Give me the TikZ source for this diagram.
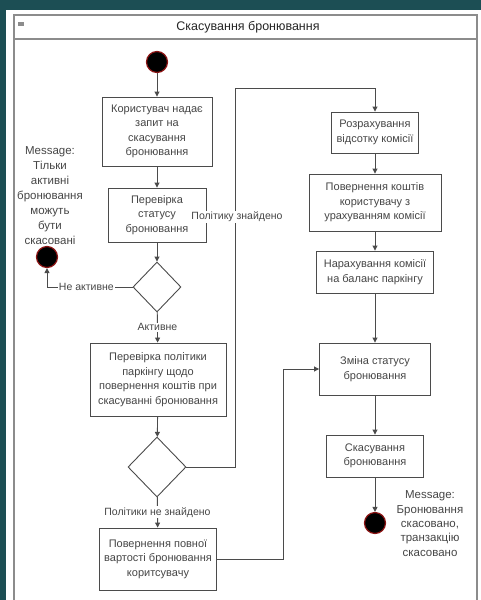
\documentclass[tikz,border=0pt]{standalone}
\usepackage{fontspec}
\setmainfont{Liberation Sans}
\usetikzlibrary{arrows.meta,shapes.geometric,calc}
\definecolor{teal1}{RGB}{28,78,84}
\definecolor{linec}{RGB}{75,75,75}
\definecolor{txtc}{RGB}{70,70,70}
\definecolor{framec}{RGB}{140,140,140}
\definecolor{startred}{RGB}{140,20,20}
\begin{document}
\begin{tikzpicture}[x=1pt,y=-1pt,
  font=\fontsize{11}{14.5}\selectfont,
  act/.style={draw=linec, line width=0.9pt, fill=white, align=center, text=txtc, inner sep=1pt},
  dec/.style={draw=linec, line width=0.9pt, diamond, fill=white, inner sep=0pt},
  blob/.style={circle, fill=black, draw=startred, line width=1.2pt, minimum size=21pt, inner sep=0pt},
  arr/.style={draw=linec, line width=0.9pt, -{Triangle[length=5pt,width=5pt]}},
  lbl/.style={fill=white, text=txtc, inner sep=1pt, font=\fontsize{10.5}{12}\selectfont},
  msg/.style={align=center, text=txtc}]
% background
\fill[teal1] (0,0) rectangle (481,600);
\fill[white] (6,10) rectangle (481,600);
\useasboundingbox (0,0) rectangle (481,600);
% frame
\draw[framec, line width=1.2pt] (14,600) -- (14,15) -- (477,15) -- (477,600);
\draw[framec, line width=1.6pt] (14,39) -- (477,39);
\fill[framec] (18,22) rectangle (24,26);
\node[text=black!85, font=\fontsize{12.5}{14}\selectfont] (title) at (248,27) {Скасування бронювання};
% nodes
\node[blob] (start) at (157,62) {};
\node[act, minimum width=110pt, minimum height=69pt] (b1) at (157,131.5) {Користувач надає\\запит на\\скасування\\бронювання};
\node[act, minimum width=98pt, minimum height=54pt] (b2) at (157,215) {Перевірка\\статусу\\бронювання};
\node[dec, minimum width=48pt, minimum height=50pt] (d1) at (157,287) {};
\node[blob] (end1) at (47,257) {};
\node[msg, font=\fontsize{11.5}{15}\selectfont] (m1) at (50,196) {Message:\\Тільки\\активні\\бронювання\\можуть\\бути\\скасовані};
\node[act, minimum width=136pt, minimum height=73pt] (b3) at (158,379.5) {Перевірка політики\\паркінгу щодо\\повернення коштів при\\скасуванні бронювання};
\node[dec, minimum width=58pt, minimum height=60pt] (d2) at (157,467) {};
\node[act, minimum width=117pt, minimum height=62pt] (b4) at (158,559) {Повернення повної\\вартості бронювання\\коритсувачу};
\node[act, minimum width=87pt, minimum height=41pt] (r1) at (375,132.5) {Розрахування\\відсотку комісії};
\node[act, minimum width=132pt, minimum height=57pt] (r2) at (375,202.5) {Повернення коштів\\користувачу з\\урахуванням комісії};
\node[act, minimum width=117pt, minimum height=42pt] (r3) at (375,272) {Нарахування комісії\\на баланс паркінгу};
\node[act, minimum width=111pt, minimum height=52pt] (r4) at (375,369) {Зміна статусу\\бронювання};
\node[act, minimum width=97pt, minimum height=42pt] (r5) at (375,456) {Скасування\\бронювання};
\node[blob] (end2) at (375,523) {};
\node[msg, font=\fontsize{11.5}{14.3}\selectfont] (m2) at (430,523.5) {Message:\\Бронювання\\скасовано,\\транзакцію\\скасовано};
\coordinate (c1) at (235,88);
\coordinate (c2) at (283,369);
% edges
\draw[arr] (start) -- (b1);
\draw[arr] (b1) -- (b2);
\draw[arr] (b2) -- (d1);
\draw[arr] (d1) -- node[lbl, pos=0.5] {Активне} (b3);
\draw[arr] (d1.west) -| node[lbl, pos=0.27] {Не активне} (end1.south);
\draw[arr] (b3) -- (d2);
\draw[arr] (d2) -- node[lbl, pos=0.5] {Політики не знайдено} (b4);
\draw[arr] (d2.east) -| (c1) -| (r1.north);
\node[lbl] (l3) at (237,217) {Політику знайдено};
\draw[arr] (b4.east) -| (c2) -- (r4.west);
\draw[arr] (r1) -- (r2);
\draw[arr] (r2) -- (r3);
\draw[arr] (r3) -- (r4);
\draw[arr] (r4) -- (r5);
\draw[arr] (r5) -- (end2);
\end{tikzpicture}
\end{document}
